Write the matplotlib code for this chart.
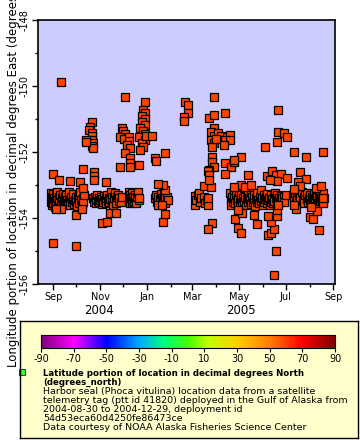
import numpy as np
import pandas as pd
import matplotlib
matplotlib.use('Agg')
import matplotlib.pyplot as plt
import matplotlib.dates as mdates
from matplotlib.colors import LinearSegmentedColormap, Normalize
from matplotlib.cm import ScalarMappable

# days since 2004-09-01, longitude (deg east)
start = pd.Timestamp('2004-09-01')

sep_cluster = [(-3,-153.25),(-3,-153.5),(-2,-153.35),(-2,-153.62),(-1,-153.42),(0,-153.28),(0,-153.55),
               (1,-153.38),(2,-153.47),(2,-153.68),(3,-153.3),(4,-153.52),(5,-153.4),(5,-153.22),(6,-153.6),
               (7,-153.35),(8,-153.45),(8,-153.7),(9,-153.3),(10,-153.5),(11,-153.4),(12,-153.58),(13,-153.27),
               (14,-153.45),(15,-153.36),(15,-153.62),(16,-153.5),(17,-153.3),(18,-153.44),(19,-153.55),
               (20,-153.38),(21,-153.2),(22,-153.48),(22,-153.62),(23,-153.35),(24,-153.52),(25,-153.42),
               (26,-153.28),(27,-153.58),(28,-153.45),(29,-153.35),(30,-153.5),(31,-153.65),(32,-153.4),
               (33,-153.3),(34,-153.55),(35,-153.22),(36,-153.45),(37,-153.6),(38,-153.38),(39,-153.5),(40,-153.3)]

nov_cluster = [(52,-153.4),(53,-153.5),(54,-153.35),(55,-153.55),(56,-153.42),(57,-153.3),(58,-153.48),
               (59,-153.38),(60,-153.52),(61,-153.45),(62,-153.35),(63,-153.58),(64,-153.42),(65,-153.5),
               (66,-153.32),(67,-153.45),(68,-153.55),(69,-153.4),(70,-153.3),(71,-153.48),(72,-153.38),
               (73,-153.52),(74,-153.42),(75,-153.2),(76,-153.35),(77,-153.5),(78,-153.6),(79,-153.4),
               (80,-153.25),(81,-153.45),(82,-153.55),(83,-153.35),(84,-153.3),(85,-153.48),(86,-153.4),
               (88,-153.52),(89,-153.35)]

dec_cluster = [(99,-153.2),(99,-153.45),(100,-153.3),(100,-153.55),(101,-153.38),(102,-153.5),(103,-153.25),
               (103,-153.42),(104,-153.35),(105,-153.48),(106,-153.3),(107,-153.4),(108,-153.55),(109,-153.35),
               (110,-153.2),(111,-153.45),(112,-153.38)]

feb_cluster = [(133,-153.4),(134,-153.3),(135,-153.52),(136,-153.45),(137,-153.35),(138,-153.6),(139,-153.42),
               (140,-153.28),(141,-153.5),(142,-153.38),(143,-153.45),(144,-153.3),(145,-153.55),(146,-153.4),
               (148,-153.35),(150,-153.45),(146,-153.15),(143,-153.0)]

mar_cluster = [(184,-153.33),(184,-153.61),(186,-153.45),(188,-153.3),(190,-153.24),(191,-153.5),(193,-153.4),
               (196,-153.36),(198,-153.55),(200,-153.45),(202,-153.61),(196,-153.03),(205,-153.06),(201,-153.4)]

jun_cluster = [(230,-153.25),(231,-153.45),(232,-153.6),(233,-153.35),(234,-153.5),(235,-153.15),(236,-153.4),
               (237,-153.55),(238,-153.3),(239,-153.45),(240,-153.62),(241,-153.38),(242,-153.2),(243,-153.5),
               (244,-153.42),(245,-153.3),(246,-153.55),(247,-153.4),(248,-153.1),(249,-153.48),(250,-153.35),
               (251,-153.6),(252,-153.42),(253,-153.28),(254,-153.52),(255,-153.38),(256,-153.45),(257,-153.2),
               (258,-153.58),(259,-153.35),(260,-153.5),(261,-153.42),(262,-153.3),(263,-153.65),(264,-153.4),
               (265,-153.5),(266,-153.25),(267,-153.45),(268,-153.55),(269,-153.35),(270,-153.48),(271,-153.15),
               (272,-153.4),(273,-153.6),(274,-153.3),(275,-153.5),(276,-153.42),(277,-153.35),(278,-153.55),
               (279,-153.28),(280,-153.45),(281,-153.38),(282,-153.6),(283,-153.5),(284,-153.3),(285,-153.42),
               (286,-153.55),(287,-153.35),(288,-153.48),(289,-153.25),(290,-153.4),(291,-153.55),(292,-153.3),
               (293,-153.45),(294,-153.38),(295,-153.5),(296,-153.32),(297,-153.45),(298,-153.4),(300,-153.35),
               (301,-153.5),(303,-153.3),(245,-153.0),(250,-153.05),(236,-153.05),(258,-153.0)]

aug_cluster = [(312,-153.3),(313,-153.5),(314,-153.4),(315,-153.25),(316,-153.55),(317,-153.35),(318,-153.45),
               (320,-153.3),(321,-153.5),(322,-153.4),(324,-153.2),(325,-153.45),(326,-153.35),(327,-153.55),
               (328,-153.3),(330,-153.42),(331,-153.25),(332,-153.5),(333,-153.38),(334,-153.3),(335,-153.45),
               (336,-153.55),(337,-153.35),(338,-153.42),(339,-153.28),(340,-153.5),(341,-153.4),(342,-153.3),
               (343,-153.45),(344,-153.35),(345,-153.55),(346,-153.4),(347,-153.3),(348,-153.48),(349,-153.38),
               (350,-153.45),(351,-153.25),(352,-153.5),(353,-153.4)]

scatter_2004 = [(10,-149.88),(93,-150.33),(119,-150.48),(51,-151.09),(48,-151.24),(47,-151.33),(50,-151.42),
                (51,-151.52),(51,-151.64),(42,-151.64),(52,-151.73),(51,-151.82),(52,-151.88),(43,-151.7),
                (89,-151.27),(91,-151.36),(94,-151.45),(87,-151.55),(92,-151.61),(98,-151.55),(99,-151.67),
                (96,-151.79),(100,-151.88),(94,-152.03),(100,-152.18),(100,-152.33),(100,-152.45),(87,-152.45),
                (117,-150.73),(119,-150.82),(116,-150.91),(119,-151.0),(115,-151.09),(120,-151.18),(113,-151.27),
                (117,-151.36),(120,-151.45),(112,-151.55),(119,-151.64),(115,-151.73),(117,-151.85),(113,-151.94),
                (121,-151.52),(128,-151.52),(112,-152.39),(133,-152.18),(134,-152.27),(146,-152.03),(136,-152.97),
                (0,-152.67),(8,-152.85),(22,-152.88),(35,-152.91),(39,-152.52),(53,-152.61),(53,-152.73),
                (53,-152.85),(68,-152.91),(38,-153.09),(0,-154.76),(30,-154.85),(30,-153.91),(37,-153.73),
                (10,-153.73),(3,-153.73),(64,-154.15),(70,-154.12),(74,-153.85),(82,-153.85),(143,-154.12),
                (146,-153.88),(136,-153.61),(142,-153.61)]

scatter_2005 = [(209,-150.33),(171,-150.48),(175,-150.58),(175,-150.82),(170,-150.94),(170,-151.06),(203,-150.97),
                (209,-150.88),(224,-150.82),(209,-151.27),(206,-151.39),(209,-151.52),(206,-151.64),(209,-151.73),
                (207,-151.85),(214,-151.42),(218,-151.5),(226,-151.55),(230,-151.49),(224,-151.64),(230,-151.64),
                (222,-151.79),(212,-151.6),(207,-152.15),(207,-152.3),(209,-152.45),(203,-152.55),(201,-152.58),
                (203,-152.7),(203,-152.85),(207,-154.15),(202,-154.33),(224,-152.33),(232,-152.45),(236,-152.3),
                (245,-152.15),(236,-152.24),(224,-152.67),(293,-150.73),(276,-151.85),(291,-151.7),(293,-151.39),
                (301,-151.42),(304,-151.55),(314,-152.0),(329,-152.15),(351,-152.0),(237,-154.03),(240,-154.3),
                (245,-154.45),(246,-153.85),(240,-153.76),(262,-153.91),(265,-154.18),(254,-152.7),(278,-152.73),
                (285,-152.58),(290,-152.7),(296,-152.67),(305,-152.79),(292,-152.88),(282,-152.85),(280,-154.52),
                (284,-154.45),(288,-154.33),(284,-154.12),(280,-153.94),(291,-153.94),(292,-153.76),(293,-153.61),
                (290,-155.0),(287,-155.73),(321,-152.61),(329,-152.82),(319,-152.91),(322,-153.03),(314,-153.12),
                (342,-153.09),(349,-153.03),(316,-153.73),(314,-153.61),(335,-153.97),(338,-154.03),(344,-153.79),
                (346,-154.36),(336,-153.67),(351,-153.55),(351,-153.39)]

month_ticks = [1, 3, 5, 7, 9, 11]
years = ['2004', '2005']
year_centres = ['2004-10-30', '2005-05-03']
cbar_ticks = list(range(-90, 91, 20))
cbar_colors = ['#800080', '#ff00ff', '#0000ff', '#00a8ff', '#00ff80', '#40ff00',
               '#c0ff00', '#ffd000', '#ff8000', '#ff0000', '#800000']
cbar_stops = [-90, -70, -50, -30, -15, 0, 12, 30, 50, 70, 90]

legend_title = ['Latitude portion of location in decimal degrees North', '(degrees_north)']
legend_lines = ['Harbor seal (Phoca vitulina) location data from a satellite',
                'telemetry tag (ptt id 41820) deployed in the Gulf of Alaska from',
                '2004-08-30 to 2004-12-29, deployment id',
                '54d53eca60d4250fe86473ce',
                'Data courtesy of NOAA Alaska Fisheries Science Center']

pts = np.array(sep_cluster + nov_cluster + dec_cluster + feb_cluster + mar_cluster
               + jun_cluster + aug_cluster + scatter_2004 + scatter_2005)
dates = start + pd.to_timedelta(pts[:, 0], unit='D')
lons = pts[:, 1]

plt.rcParams['font.family'] = 'DejaVu Sans'
plt.rcParams['axes.unicode_minus'] = False
fig = plt.figure(figsize=(3.6, 4.4), dpi=100)
fig.patch.set_facecolor('white')

ax = fig.add_axes([38/360, 1-284/440, 297/360, 264/440])
ax.set_facecolor('#ccccff')
ax.plot(dates, lons, 's', ms=5.2, mfc='#ff4400', mec='black', mew=0.9, ls='none')

ax.set_xlim(pd.Timestamp('2004-08-12'), pd.Timestamp('2005-09-03'))
ax.set_ylim(-156, -148)
ax.xaxis.set_major_locator(mdates.MonthLocator(bymonth=month_ticks))
ax.xaxis.set_minor_locator(mdates.MonthLocator())
ax.xaxis.set_major_formatter(mdates.DateFormatter('%b'))
ax.set_yticks(range(-156, -147, 2))
ax.set_yticks(range(-155, -148, 2), minor=True)
ax.tick_params(which='major', length=4, width=1, labelsize=7, pad=2)
ax.tick_params(which='minor', length=2.5, width=1)
ax.tick_params(axis='y', labelrotation=90)
for lbl in ax.get_yticklabels():
    lbl.set_va('center')
for s in ax.spines.values():
    s.set_linewidth(1.2)

# year labels under the months
for yr, c in zip(years, year_centres):
    ax.text(pd.Timestamp(c), -0.102, yr, transform=ax.get_xaxis_transform(),
            ha='center', va='center', fontsize=8.5)

# long axis title, runs off the top like the original
fig.text(0.037, (440-367)/440, 'Longitude portion of location in decimal degrees East (degrees_east)',
         rotation=90, ha='center', va='bottom', fontsize=8.5)

# legend box
lax = fig.add_axes([20/360, 2/440, 338/360, 117/440])
lax.set_facecolor('#ffffcc')
lax.set_xticks([])
lax.set_yticks([])
for s in lax.spines.values():
    s.set_linewidth(1)
lax.set_xlim(0, 1)
lax.set_ylim(0, 1)
lax.plot([2/338], [1-51/117], 's', ms=4.5, mfc='#33ff33', mec='#225522', mew=0.8,
         transform=lax.transAxes, clip_on=False)

cmap = LinearSegmentedColormap.from_list(
    'rb', [((v+90)/180, c) for v, c in zip(cbar_stops, cbar_colors)])
cax = fig.add_axes([41/360, 1-348/440, 294/360, 13/440])
cb = fig.colorbar(ScalarMappable(norm=Normalize(-90, 90), cmap=cmap), cax=cax,
                  orientation='horizontal', ticks=cbar_ticks)
cb.outline.set_linewidth(0.8)
cax.tick_params(labelsize=7, length=3, pad=1.5)

y = 373
for line in legend_title:
    fig.text(43/360, 1-y/440, line, fontsize=6.2, fontweight='bold', va='center')
    y += 9
for line in legend_lines:
    fig.text(43/360, 1-y/440, line, fontsize=6.8, va='center')
    y += 9

fig.savefig('out.png', dpi=100)
